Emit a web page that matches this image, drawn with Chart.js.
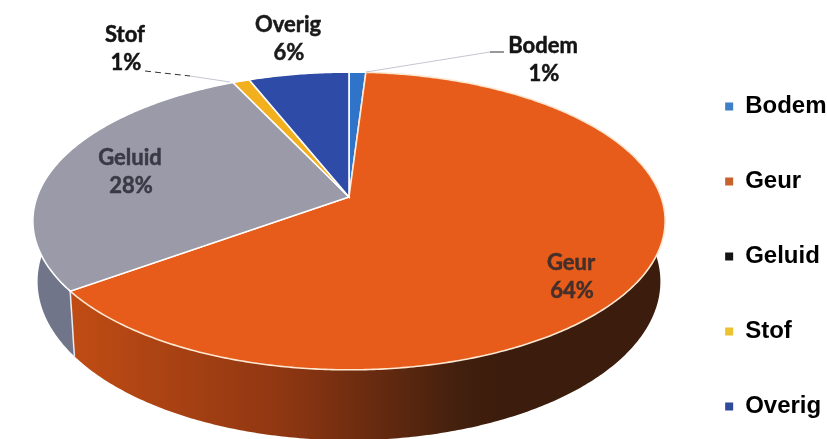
<!DOCTYPE html>
<html>
<head>
<meta charset="utf-8">
<title>Klachten</title>
<script src="https://cdn.jsdelivr.net/npm/chart.js@4"></script>
<style>
    html, body { margin: 0; padding: 0; background: #fff; }
    canvas { display: block; filter: blur(0.5px); }
</style>
</head>
<body>
<canvas id="pieChart" width="827" height="439"></canvas>
<script>
// Data
const categories = ['Bodem', 'Geur', 'Geluid', 'Stof', 'Overig'];
const values = [1, 64, 28, 1, 6];
const topColors = ['#2f74c9', '#e75b1b', '#9a9aa8', '#f2b01e', '#2f4ba8'];
const sideColors = ['#1f4f8a', '#a8430f', '#70758a', '#a87a10', '#1f3274'];
const legendColors = ['#3f7fc8', '#c8622c', '#141414', '#eec22e', '#2f4a9c'];

// Label places (centre of the text), same order as categories
const labelPlaces = [[543, 46], [571, 263], [130, 158], [125, 35], [288, 25]];
const labelColors = ['#141414', '#43302a', '#3a3a46', '#141414', '#1a1a1a'];

// Tilted disc: perspective of the unit circle around the apex
const disc = { cx: 349, cy: 197, rx: 312, ry: 145, k: 0.161, depth: 59, inset: 0.985 };

function project(angle) {
    const u = Math.cos(angle);
    const v = Math.sin(angle);
    const w = 1 - disc.k * v;
    return { x: disc.cx + disc.rx * u / w, y: disc.cy + disc.ry * v / w, w: w };
}

function projectBottom(angle) {
    const p = project(angle);
    return { x: disc.cx + (p.x - disc.cx) * disc.inset, y: p.y + disc.depth / p.w };
}

function arcPoints(start, end, fn) {
    const steps = Math.max(2, Math.ceil((end - start) / 0.01));
    const pts = [];
    for (let i = 0; i <= steps; i++) {
        pts.push(fn(start + (end - start) * i / steps));
    }
    return pts;
}

function tracePoints(ctx, pts) {
    pts.forEach(p => ctx.lineTo(p.x, p.y));
}

// Draws the slices from the angles the pie controller computed
const tiltedPie = {
    id: 'tiltedPie',
    beforeDatasetsDraw(chart) {
        const ctx = chart.ctx;
        const arcs = chart.getDatasetMeta(0).data;

        // Side wall
        arcs.forEach((arc, i) => {
            const top = arcPoints(arc.startAngle, arc.endAngle, project);
            const bottom = arcPoints(arc.startAngle, arc.endAngle, projectBottom).reverse();
            let fill = sideColors[i];
            if (categories[i] === 'Geur') {
                fill = ctx.createLinearGradient(72, 0, 500, 0);
                fill.addColorStop(0, '#c04c14');
                fill.addColorStop(0.5, '#8e3612');
                fill.addColorStop(0.9, '#43200e');
                fill.addColorStop(1, '#3c1c0c');
            }
            ctx.beginPath();
            tracePoints(ctx, top.concat(bottom));
            ctx.closePath();
            ctx.fillStyle = fill;
            ctx.fill();
        });

        // White seam between the walls
        arcs.forEach(arc => {
            if (Math.sin(arc.startAngle) > 0 && arc.startAngle > -Math.PI / 2) {
                const a = project(arc.startAngle);
                const b = projectBottom(arc.startAngle);
                ctx.beginPath();
                ctx.moveTo(a.x, a.y);
                ctx.lineTo(b.x, b.y);
                ctx.strokeStyle = '#e8ecf4';
                ctx.lineWidth = 1.5;
                ctx.stroke();
            }
        });

        // Top face
        arcs.forEach((arc, i) => {
            ctx.beginPath();
            ctx.moveTo(disc.cx, disc.cy);
            tracePoints(ctx, arcPoints(arc.startAngle, arc.endAngle, project));
            ctx.closePath();
            ctx.fillStyle = topColors[i];
            ctx.fill();
            ctx.strokeStyle = categories[i] === 'Geur' ? '#fde8d2' : '#ffffff';
            ctx.lineWidth = 1.6;
            ctx.stroke();
        });

        // Leader lines
        ctx.lineWidth = 1;
        ctx.strokeStyle = '#c4c6d0';
        ctx.beginPath();
        ctx.moveTo(366, 72);
        ctx.lineTo(490, 52);
        ctx.moveTo(190, 76);
        ctx.lineTo(230, 82);
        ctx.stroke();
        ctx.strokeStyle = '#333333';
        ctx.beginPath();
        ctx.moveTo(490, 52);
        ctx.lineTo(504, 52);
        ctx.stroke();
        ctx.setLineDash([6, 4]);
        ctx.beginPath();
        ctx.moveTo(145, 71);
        ctx.lineTo(190, 76);
        ctx.stroke();
        ctx.setLineDash([]);

        // Data labels
        ctx.textAlign = 'center';
        ctx.textBaseline = 'middle';
        ctx.font = 'bold 22px Lato';
        ctx.lineWidth = 0.5;
        categories.forEach((name, i) => {
            const pct = values[i] + '%';
            ctx.fillStyle = labelColors[i];
            ctx.strokeStyle = labelColors[i];
            ctx.fillText(name, labelPlaces[i][0], labelPlaces[i][1]);
            ctx.strokeText(name, labelPlaces[i][0], labelPlaces[i][1]);
            ctx.fillText(pct, labelPlaces[i][0] + 1, labelPlaces[i][1] + 28);
            ctx.strokeText(pct, labelPlaces[i][0] + 1, labelPlaces[i][1] + 28);
        });
        return false;
    }
};

new Chart(document.getElementById('pieChart'), {
    type: 'pie',
    data: {
        labels: categories,
        datasets: [{
            data: values,
            backgroundColor: topColors
        }]
    },
    options: {
        responsive: false,
        animation: false,
        layout: { padding: { right: -9.5, top: 37, bottom: -37 } },
        plugins: {
            tooltip: { enabled: false },
            legend: {
                position: 'right',
                labels: {
                    boxWidth: 8,
                    boxHeight: 8,
                    padding: 51,
                    color: '#1a1a1a',
                    font: { family: '"Liberation Sans"', size: 24, weight: 'bold' },
                    generateLabels: () => categories.map((name, i) => ({
                        text: name,
                        fillStyle: legendColors[i],
                        strokeStyle: legendColors[i],
                        lineWidth: 0,
                        index: i
                    }))
                }
            }
        }
    },
    plugins: [tiltedPie]
});
</script>
</body>
</html>
